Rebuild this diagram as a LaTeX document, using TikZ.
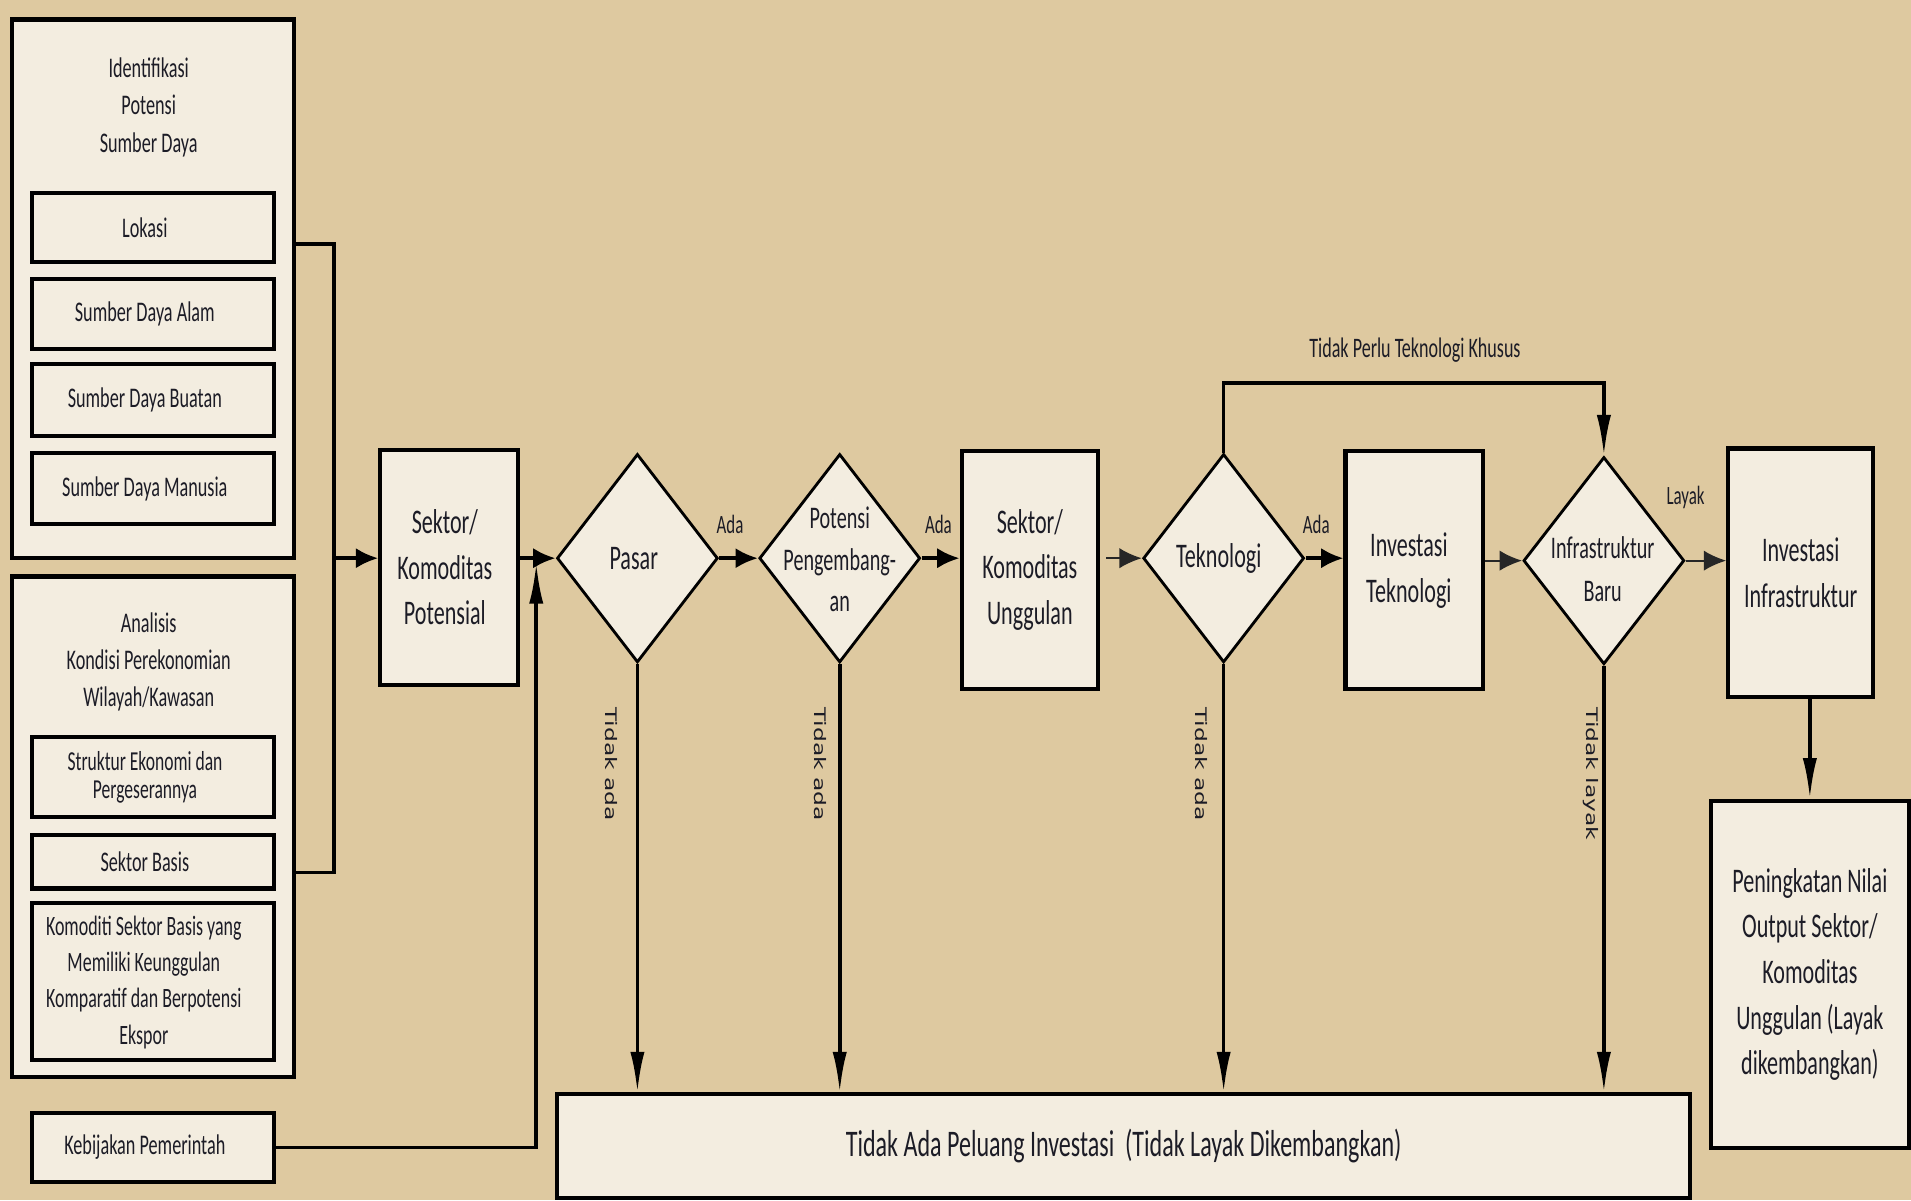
\documentclass[tikz,border=0pt]{standalone}
\usepackage{fontspec}
\setmainfont{Carlito}[FakeStretch=0.64]
\newfontfamily\rotfont{DejaVu Sans}
\usetikzlibrary{shapes.geometric,arrows.meta}
\definecolor{bgtan}{RGB}{222,201,160}
\definecolor{cream}{RGB}{243,237,224}
\definecolor{ink}{RGB}{28,28,38}
\begin{document}
\begin{tikzpicture}[x=0.6pt,y=-0.6pt,
  box/.style={draw=black, fill=cream, line width=2pt, inner sep=0pt, align=center, text=ink},
  dia/.style={draw=black, fill=cream, diamond, line width=1.4pt, inner sep=0pt},
  conn/.style={draw=black, line width=1.8pt},
  thinconn/.style={draw=black!85, line width=1pt},
  harr/.style={-{Latex[length=11pt,width=10pt]}},
  varr/.style={-{Latex[length=20pt,width=7pt]}},
  small/.style={font=\fontsize{14}{18}\selectfont},
  big/.style={font=\fontsize{17}{22.5}\selectfont},
  txt/.style={text=ink, align=center, inner sep=0pt},
  intext/.style={label={[txt, font=\fontsize{14}{18}\selectfont, xshift=-4pt]center:#1}},
  lbl/.style={text=ink, inner sep=0pt, font=\fontsize{13}{15}\selectfont},
  rot/.style={text=ink, inner sep=0pt, rotate=-90, font=\fontsize{11.5}{13}\rotfont},
]
\useasboundingbox (0,0) rectangle (1568,985);
\fill[bgtan] (0,0) rectangle (1568,985);

% left column
\node[box, minimum width=138.6pt, minimum height=265.2pt] (boxA) at (125.5,237) {};
\node[txt, font=\fontsize{14}{18.3}\selectfont] (titA) at (122,88) {Identifikasi\\Potensi\\Sumber Daya};
\node[box, minimum width=119.4pt, minimum height=34.2pt, intext=Lokasi] (lok) at (125.5,186.5) {};
\node[box, minimum width=119.4pt, minimum height=34.2pt, intext=Sumber Daya Alam] (sda) at (125.5,257.5) {};
\node[box, minimum width=119.4pt, minimum height=35.4pt, intext=Sumber Daya Buatan] (sdb) at (125.5,328.5) {};
\node[box, minimum width=119.4pt, minimum height=34.8pt, intext=Sumber Daya Manusia] (sdm) at (125.5,401) {};

\node[box, minimum width=138.6pt, minimum height=246.6pt] (boxB) at (125.5,678.5) {};
\node[txt, font=\fontsize{14}{18.3}\selectfont] (titB) at (122,543) {Analisis\\Kondisi Perekonomian\\Wilayah/Kawasan};
\node[box, minimum width=119.4pt, minimum height=39pt] (struk) at (125.5,637.5) {};
\node[txt, font=\fontsize{13.5}{14}\selectfont] (strukT) at (119,638) {Struktur Ekonomi dan\\Pergeserannya};
\node[box, minimum width=119.4pt, minimum height=26.4pt, intext=Sektor Basis] (basis) at (125.5,707) {};
\node[box, minimum width=119.4pt, minimum height=77.4pt] (komod) at (125.5,805.5) {};
\node[txt, font=\fontsize{13.8}{17.8}\selectfont] (komodT) at (118,806) {Komoditi Sektor Basis yang\\Memiliki Keunggulan\\Komparatif dan Berpotensi\\Ekspor};
\node[box, minimum width=119.4pt, minimum height=34.2pt, intext=Kebijakan Pemerintah] (keb) at (125.5,941.5) {};

% main row
\node[box, big, minimum width=67.8pt, minimum height=115.8pt] (pot) at (368.5,465.5) {};
\node[txt, big] (potT) at (365,465.5) {Sektor/\\Komoditas\\Potensial};
\node[dia, minimum width=79.2pt, minimum height=102.6pt] (pasar) at (523,458) {};
\node[txt, big] (pasarT) at (520,458) {Pasar};
\node[dia, minimum width=79.2pt, minimum height=102.6pt] (pp) at (689,458) {};
\node[txt, font=\fontsize{15.5}{20.4}\selectfont] (ppT) at (689,459) {Potensi\\Pengembang-\\an};
\node[box, big, minimum width=67.2pt, minimum height=117pt] (ungg) at (845,467.5) {Sektor/\\Komoditas\\Unggulan};
\node[dia, minimum width=79.2pt, minimum height=102.6pt] (tek) at (1004,458) {};
\node[txt, big] (tekT) at (1000,458) {Teknologi};
\node[box, big, minimum width=67.8pt, minimum height=117pt] (invtek) at (1160.5,467.5) {};
\node[txt, big] (invtekT) at (1156,468) {Investasi\\Teknologi};
\node[dia, minimum width=79.2pt, minimum height=102pt] (infra) at (1316,460) {};
\node[txt, font=\fontsize{15.5}{21.6}\selectfont] (infraT) at (1315,467) {Infrastruktur\\Baru};
\node[box, big, minimum width=71.4pt, minimum height=122.4pt] (invinf) at (1477.5,470) {Investasi\\Infrastruktur};
\node[box, big, minimum width=97.2pt, minimum height=171pt] (pen) at (1485,799.5) {Peningkatan Nilai\\Output Sektor/\\Komoditas\\Unggulan (Layak\\dikembangkan)};
\node[box, font=\fontsize{18.5}{22}\selectfont, minimum width=558pt, minimum height=51pt] (pel) at (922,940.5) {Tidak Ada Peluang Investasi\ \ (Tidak Layak Dikembangkan)};

% bracket and inputs
\coordinate (brA) at (274,200);
\coordinate (brB) at (274,716);
\coordinate (brM) at (274,458);
\coordinate (kj) at (440,462);
\draw[conn] (boxA.east |- brA) -- (brA) -- (brB) -- (boxB.east |- brB);
\draw[conn, harr] (brM) -- (pot.west |- brM);
\draw[conn, varr] (keb.east) -| (kj);

% horizontal flow
\draw[conn, harr] (pot.east |- pasar.west) -- (pasar.west);
\draw[conn, harr] (pasar.east) -- (pp.west);
\draw[conn, harr] (pp.east) -- (ungg.west |- pp.east);
\draw[thinconn, harr, shorten <=3pt] (ungg.east |- tek.west) -- (tek.west);
\draw[conn, harr] (tek.east) -- (invtek.west |- tek.east);
\draw[thinconn, harr] (invtek.east |- infra.west) -- (infra.west);
\draw[thinconn, harr] (infra.east) -- (invinf.west |- infra.east);
\draw[conn, varr] (pen.north |- invinf.south) -- (pen.north);

% top loop
\coordinate (loop) at (1161,314);
\draw[conn, varr] (tek.north) |- (loop) -| (infra.north);
\node[lbl, font=\fontsize{13.9}{15}\selectfont] (loopL) at (1161,287) {Tidak Perlu Teknologi Khusus};

% labels
\node[lbl] (ada1) at (599,430) {Ada};
\node[lbl] (ada2) at (770,430) {Ada};
\node[lbl] (ada3) at (1080,430) {Ada};
\node[lbl] (layak) at (1383,408) {Layak};

% downward arrows
\draw[conn, varr] (pasar.south) -- (pasar.south |- pel.north);
\draw[conn, varr] (pp.south) -- (pp.south |- pel.north);
\draw[conn, varr] (tek.south) -- (tek.south |- pel.north);
\draw[conn, varr] (infra.south) -- (infra.south |- pel.north);

\node[rot] (r1) at (502,627) {\scalebox{1}[0.68]{Tidak ada}};
\node[rot] (r2) at (673,627) {\scalebox{1}[0.68]{Tidak ada}};
\node[rot] (r3) at (986,627) {\scalebox{1}[0.68]{Tidak ada}};
\node[rot] (r4) at (1305,635) {\scalebox{1}[0.68]{Tidak layak}};
\end{tikzpicture}
\end{document}
